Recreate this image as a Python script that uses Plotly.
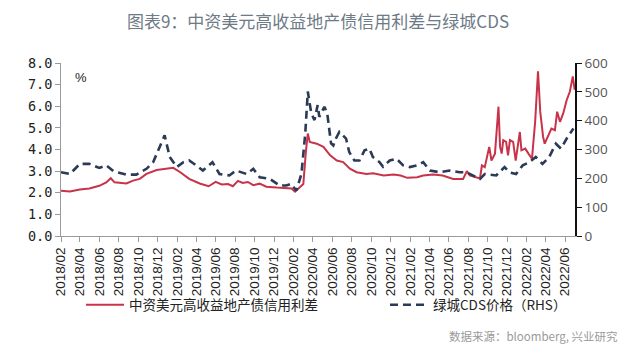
import plotly.graph_objects as go

# ---- data ----
spread_dates = [
    "2018-02-01","2018-03-01","2018-04-01","2018-05-01","2018-06-01","2018-06-23","2018-07-07","2018-07-19",
    "2018-08-25","2018-09-15","2018-10-06","2018-10-27","2018-11-28","2018-12-28","2019-01-19","2019-02-10",
    "2019-03-10","2019-04-12","2019-05-10","2019-06-01","2019-06-20","2019-07-10","2019-07-25","2019-08-10",
    "2019-08-25","2019-09-10","2019-09-27","2019-10-17","2019-11-07","2019-12-09","2020-01-09","2020-01-25",
    "2020-02-05","2020-02-22","2020-03-02","2020-03-10","2020-03-16","2020-03-22","2020-04-13","2020-05-04",
    "2020-05-25","2020-06-15","2020-07-05","2020-07-26","2020-08-16","2020-09-16","2020-10-07","2020-11-09",
    "2020-12-10","2021-01-01","2021-01-22","2021-02-22","2021-03-13","2021-04-13","2021-05-13","2021-06-15",
    "2021-07-16","2021-07-28","2021-08-06","2021-09-07","2021-09-13","2021-09-22","2021-10-06","2021-10-13",
    "2021-10-24","2021-11-04","2021-11-09","2021-11-14","2021-11-19","2021-11-28","2021-12-04","2021-12-10",
    "2021-12-20","2021-12-28","2022-01-05","2022-01-10","2022-01-15","2022-01-27","2022-02-06","2022-02-17",
    "2022-02-27","2022-03-08","2022-03-15","2022-03-24","2022-03-29","2022-04-09","2022-04-19","2022-04-30",
    "2022-05-07","2022-05-16","2022-05-26","2022-06-06","2022-06-16","2022-06-25","2022-07-01",
]
spread_values = [
    2.09, 2.06, 2.15, 2.20, 2.32, 2.48, 2.67, 2.48,
    2.43, 2.56, 2.64, 2.87, 3.05, 3.10, 3.15, 2.95,
    2.64, 2.43, 2.30, 2.50, 2.38, 2.40, 2.30, 2.55,
    2.45, 2.50, 2.35, 2.42, 2.28, 2.24, 2.22, 2.20,
    2.05, 2.25, 2.40, 3.90, 4.74, 4.35, 4.27, 4.12,
    3.73, 3.49, 3.42, 3.11, 2.95, 2.87, 2.90, 2.80,
    2.84, 2.80, 2.69, 2.72, 2.80, 2.84, 2.80, 2.64,
    2.64, 3.00, 2.80, 2.66, 3.26, 3.18, 4.12, 3.49,
    3.81, 5.98, 4.12, 3.81, 4.43, 4.35, 3.73, 4.43,
    4.35, 3.49, 4.35, 4.81, 3.96, 4.04, 3.81, 3.57,
    5.28, 7.61, 5.75, 4.58, 4.27, 4.66, 4.97, 4.89,
    5.75, 5.28, 5.67, 6.29, 6.68, 7.38, 6.76,
]

cds_dates = [
    "2018-02-01","2018-03-01","2018-04-01","2018-05-01","2018-06-01","2018-06-23","2018-07-15","2018-08-25",
    "2018-09-25","2018-10-27","2018-11-17","2018-12-08","2018-12-23","2019-01-08","2019-01-30","2019-02-20",
    "2019-03-10","2019-04-01","2019-04-22","2019-05-22","2019-06-13","2019-07-14","2019-08-04","2019-09-06",
    "2019-09-27","2019-10-17","2019-11-18","2019-12-19","2020-01-09","2020-01-24","2020-02-09","2020-02-25",
    "2020-03-08","2020-03-16","2020-03-27","2020-04-06","2020-04-16","2020-04-21","2020-05-07","2020-05-16",
    "2020-05-28","2020-06-04","2020-06-13","2020-06-23","2020-07-14","2020-07-24","2020-08-09","2020-08-25",
    "2020-09-10","2020-09-25","2020-10-06","2020-10-27","2020-11-07","2020-11-28","2020-12-19","2021-01-09",
    "2021-01-30","2021-02-22","2021-03-13","2021-04-03","2021-05-04","2021-06-04","2021-07-05","2021-07-26",
    "2021-09-07","2021-09-22","2021-10-28","2021-11-23","2021-12-08","2021-12-29","2022-01-19","2022-02-09",
    "2022-03-01","2022-03-22","2022-04-12","2022-05-03","2022-05-19","2022-06-06","2022-06-27",
]
cds_values = [
    221, 215, 250, 250, 236, 245, 225, 213,
    213, 233, 256, 309, 349, 274, 239, 256,
    262, 245, 227, 256, 215, 210, 227, 215,
    233, 204, 198, 175, 175, 181, 157, 215,
    355, 501, 425, 402, 454, 413, 448, 425,
    321, 314, 340, 361, 338, 291, 262, 262,
    297, 303, 274, 256, 240, 262, 268, 245,
    239, 245, 256, 227, 221, 227, 221, 221,
    198, 215, 210, 239, 221, 215, 245, 256,
    274, 250, 274, 320, 303, 338, 373,
]

spread_name = "中资美元高收益地产债信用利差"
cds_name = "绿城CDS价格（RHS）"
title_text = "图表9：中资美元高收益地产债信用利差与绿城CDS"
source_text = "数据来源：bloomberg, 兴业研究"

# ---- layout geometry (screen pixels; page body has an 8px offset) ----
OFF = 8
W, H = 640 - OFF, 355 - OFF
plot_left, plot_right, plot_top, plot_bottom = 61, 575, 63, 236  # screen px
L = plot_left - OFF
R = W - (plot_right - OFF)
T = plot_top - OFF
B = H - (plot_bottom - OFF)
pw, ph = plot_right - plot_left, plot_bottom - plot_top

def px_x(px):
    return (px - plot_left) / pw

def px_y(py):
    return (plot_bottom - py) / ph

fig = go.Figure()
fig.add_trace(go.Scatter(
    x=spread_dates, y=spread_values, name=spread_name, mode="lines",
    line=dict(color="#C8334A", width=2), yaxis="y", legend="legend",
))
fig.add_trace(go.Scatter(
    x=cds_dates, y=cds_values, name=cds_name, mode="lines",
    line=dict(color="#2B3A55", width=2.6, dash="8px,5px"), yaxis="y2", legend="legend2",
))

cjk = "Noto Sans CJK SC"
fig.update_layout(
    width=W, height=H,
    margin=dict(l=L, r=R, t=T, b=B, pad=0),
    paper_bgcolor="white", plot_bgcolor="white",
    title=dict(text=title_text, x=(318 - OFF) / W, xanchor="center",
               y=1 - (22 - OFF) / H, yanchor="middle",
               font=dict(family=cjk, size=17, color="#6E7A86")),
    xaxis=dict(
        type="date", range=["2018-02-01", "2022-07-02"],
        tick0="2018-02-01", dtick="M2", tickformat="%Y/%m", tickangle=-90,
        ticks="outside", ticklen=5, tickcolor="#9A9A9A",
        showline=True, linecolor="#9A9A9A", linewidth=1,
        showgrid=False, zeroline=False,
        tickfont=dict(family="Liberation Sans", size=13.5, color="#222222"),
    ),
    yaxis=dict(
        range=[0, 8], dtick=1, tickformat=".1f",
        ticks="outside", ticklen=5, tickcolor="#9A9A9A",
        showline=True, linecolor="#9A9A9A", linewidth=1,
        showgrid=False, zeroline=False,
        tickfont=dict(family="DejaVu Sans Mono", size=13.5, color="#222222"),
    ),
    yaxis2=dict(
        range=[0, 600], dtick=100, overlaying="y", side="right",
        ticks="outside", ticklen=5, tickcolor="#111111",
        showline=True, linecolor="#111111", linewidth=1.5,
        showgrid=False, zeroline=False,
        tickfont=dict(family="Open Sans", size=13.5, color="#555555"),
    ),
    showlegend=True,
    legend=dict(orientation="h", x=px_x(81), xanchor="left", y=px_y(305), yanchor="middle",
                font=dict(family=cjk, size=13.5, color="#222222"), bgcolor="rgba(0,0,0,0)",
                itemwidth=38),
    legend2=dict(orientation="h", x=px_x(385), xanchor="left", y=px_y(305), yanchor="middle",
                 font=dict(family=cjk, size=13.5, color="#222222"), bgcolor="rgba(0,0,0,0)",
                 itemwidth=38),
    annotations=[
        dict(text="%", xref="paper", yref="paper", x=px_x(73), y=px_y(68),
             showarrow=False, font=dict(family="Liberation Sans", size=13, color="#222222")),
        dict(text=source_text, xref="paper", yref="paper", x=px_x(620), xanchor="right",
             y=px_y(336), yanchor="middle", showarrow=False,
             font=dict(family=cjk, size=11.5, color="#9A9A9A")),
    ],
)

fig.write_html("out.html")
